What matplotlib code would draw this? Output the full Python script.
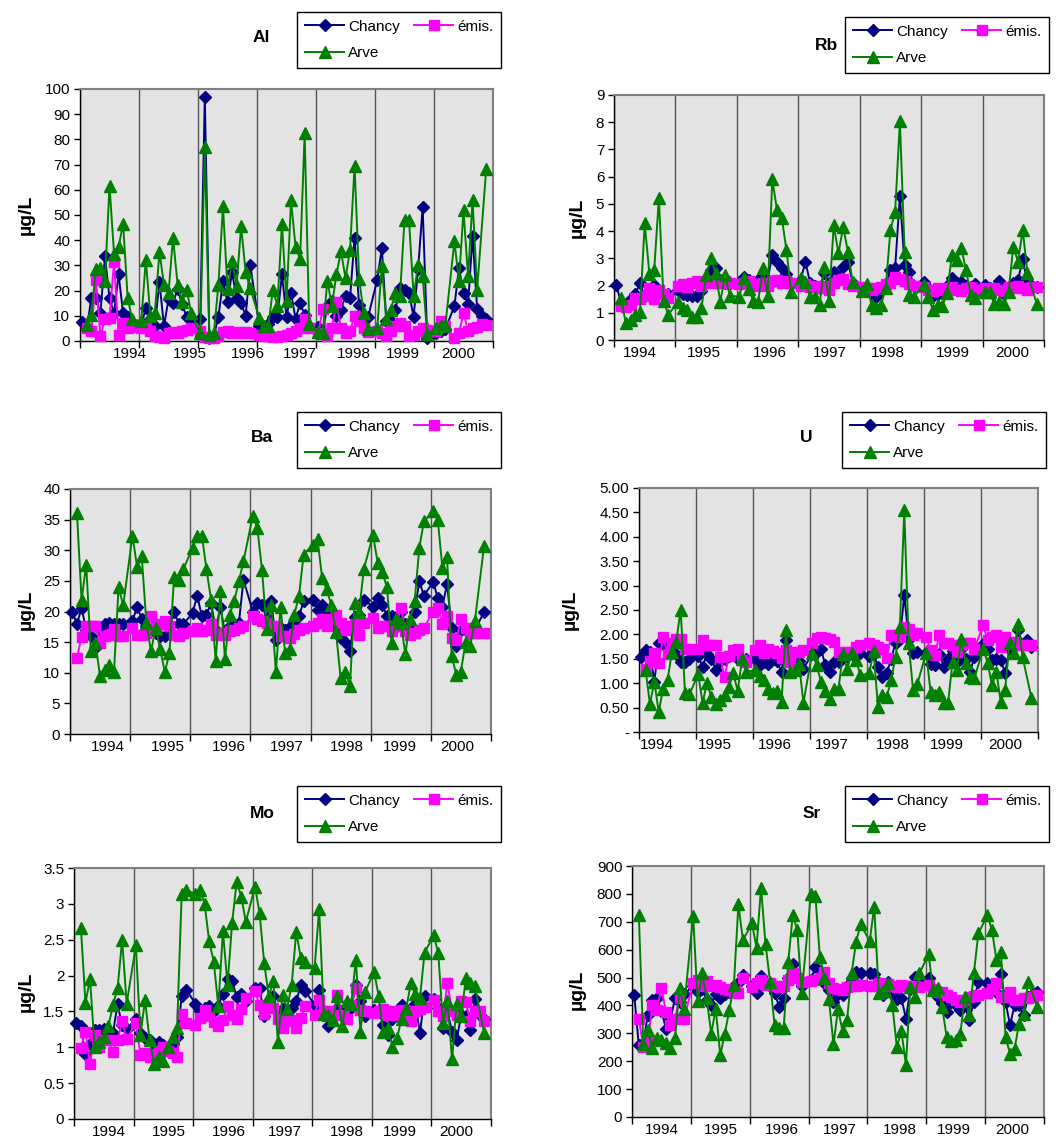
import matplotlib.pyplot as plt
import numpy as np

plt.rcParams['font.family'] = ['Liberation Sans', 'DejaVu Sans']

W, H = 1061, 1137
N = None

years = [1994, 1995, 1996, 1997, 1998, 1999, 2000]
# 13 four-weekly campaigns a year, the last one (late December) is never sampled
slots_per_year = 13
series_names = ['Chancy', 'émis.', 'Arve']

# one row per year
al_chancy = [7.5, 5, 17, 17, 11, 33.6, 17, 11, 26.4, 11, 9.6, 7, N,
             6, 13.2, 8.6, 6, 23.4, 6, 16.5, 15, 20.7, 14.5, 9.6, 8.6, N,
             8.6, 96.7, 1, 2, 9.6, 23.7, 15.4, 27.3, 17, 15.2, 9.9, 30.3, N,
             6, 5.3, 6.6, 9.6, 9.6, 26.4, 9.6, 19.1, 8.8, 14.9, 10.5, 6, N,
             5.7, 3.3, 13.9, 15.8, 9.9, 12.5, 18, 17, 40.9, 14.1, 8.6, 9.6, N,
             24.4, 36.9, 7.9, 7.9, 12.5, 21, 20.2, 19.1, 9.6, 28.6, 53.2, 1.3, N,
             3.3, 4, 4.6, N, 13.9, 29, 19.1, 14.5, 41.8, 12.8, 9.9, 8.6, N]
al_emis = [N, 5, 4, 24.4, 2, 8.6, 9.2, 31.3, 2.5, 7.3, 5, 5.5, N,
           5, 5, 4, 2, 1.5, 1, 3, 3.5, 3, 4, 4.5, 5, N,
           4, 1.5, 1, 1, 2, 3.5, 4, 3, 3.5, 3, 3.5, 3, N,
           2.5, 2, 2, 1.5, 1.5, 2, 2.5, 3, 4, 5, 8.6, 5, N,
           3, 12.8, 2, 5, 15.4, 5, 3, 4, 9.9, 8, 5, 3.5, N,
           4, 3, 2, 4, 6, 7.3, 6, 2, 2.5, 4, 5, 4.5, N,
           4, 8, 6, N, 1, 3, 11.2, 4, 5, 5.5, 6.6, 6.2, N]
al_arve = [N, 6.2, 10.5, 28.6, 29, 23.7, 61.6, 34.7, 37.3, 46.6, 17, 8.6, N,
           7.9, 32.3, 9.9, 11.2, 35.4, 22.4, 19, 41, 22.4, 15.4, 20.4, 11.2, N,
           3, 77, 2.2, 3.3, 22.4, 53.4, 20.7, 31.7, 22, 45.5, 27.3, 21, N,
           9.2, 6, 6, 20.4, 14, 46.6, 15.8, 55.8, 37.2, 32.6, 82.5, 6.6, N,
           3.6, 3.3, 24, 13.9, 26.4, 35.6, 25, 36.3, 69.5, 24.7, 11.2, 4.9, N,
           5.3, 29.7, 8.6, 12.5, 19.1, 18, 48, 47.9, 17.8, 30.3, 25.7, 2.6, N,
           5.3, 6, 6.2, N, 39.6, 23.7, 51.8, 25.7, 55.8, 20.4, N, 68.2, N]

rb_chancy = [2.02, 1.35, 1.29, 1.5, 1.7, 2.08, 1.6, 1.7, 2.02, 1.8, 1.6, 1.7, N,
             1.84, 1.7, 1.65, 1.6, 1.6, 1.8, 2.2, 2.57, 2.66, 2.2, 2.1, 2.1, N,
             2.1, 2.3, 2.2, 2.1, 2.2, 2.3, 2.2, 3.12, 2.88, 2.66, 2.41, 2.1, N,
             2.2, 2.88, 2.1, 2.0, 1.9, 2.45, 2.1, 2.5, 2.3, 2.69, 2.88, 2.1, N,
             1.9, 1.9, 1.7, 1.59, 1.8, 2.0, 2.57, 2.66, 5.3, 2.75, 2.5, 2.0, N,
             2.14, 1.9, 1.6, 1.7, 1.8, 2.0, 2.29, 2.1, 2.14, 2.0, 1.95, 2.04, N,
             2.02, 1.9, 1.8, 2.17, 1.68, 1.9, 2.1, 2.2, 2.97, 2.08, 2.0, 1.95, N]
rb_emis = [N, 1.25, 1.2, 1.3, 1.55, 1.5, 1.6, 1.9, 1.5, 1.85, 1.7, 1.55, N,
           2.0, 2.05, 1.95, 2.1, 2.15, 2.0, 2.1, 2.15, 2.1, 2.1, 2.15, 2.1, N,
           2.05, 2.1, 2.15, 2.05, 2.0, 2.1, 2.0, 2.15, 2.2, 2.1, 2.15, 2.1, N,
           2.0, 2.05, 1.95, 2.0, 1.9, 2.0, 1.85, 2.1, 2.2, 2.25, 2.05, 2.0, N,
           1.95, 1.9, 1.85, 1.9, 1.95, 2.05, 2.1, 2.3, 2.25, 2.15, 2.05, 2.0, N,
           1.95, 1.85, 1.8, 1.9, 1.85, 1.9, 1.95, 1.85, 1.8, 1.9, 1.95, 1.85, N,
           1.9, 1.85, 1.9, 1.85, 1.8, 1.95, 1.9, 2.0, 1.9, 1.85, 1.95, 1.95, N]
rb_arve = [N, 1.53, 0.61, 0.73, 0.92, 1.04, 4.28, 2.41, 2.57, 5.2, 1.43, 0.92, N,
           1.41, 1.16, 1.1, 0.86, 0.86, 1.16, 2.39, 3.0, 2.45, 1.41, 2.39, 1.63, N,
           1.59, 2.26, 1.87, 1.43, 1.41, 2.63, 1.63, 5.9, 4.77, 4.49, 3.3, 1.77, N,
           2.29, 2.14, 1.59, 1.59, 1.29, 2.69, 1.43, 4.22, 3.18, 4.16, 3.24, 2.14, N,
           1.8, 2.04, 1.29, 1.19, 1.29, 1.9, 4.04, 4.71, 8.04, 3.24, 1.65, 1.59, N,
           2.02, 1.59, 1.1, 1.29, 1.26, 1.71, 3.12, 2.94, 3.37, 2.57, 1.65, 1.53, N,
           1.77, 1.77, 1.31, 1.41, 1.31, 1.77, 3.43, 2.88, 4.04, 2.45, N, 1.31, N]

ba_chancy = [20, 17.9, 20.6, 17, 16, 14, 17, 17.9, 18.1, 18, 17.9, 18, N,
             18.4, 20.8, 18.8, 17.6, 17, 16.5, 16, 16, 17.5, 20, 18, 17.9, N,
             19.8, 22.6, 19.2, 19.5, 21.4, 17, 20.7, 16.5, 17.6, 17.9, 18.1, 25.2, N,
             20, 21.4, 21, 18.9, 21.7, 15.4, 17.3, 17, 17.5, 18.1, 19.2, 21.7, N,
             21.9, 20.3, 21, 20, 18.7, 17.3, 15.7, 15.1, 13.5, 19.1, 19.5, 21.9, N,
             20.8, 22.2, 21, 19.3, 19.2, 17.5, 20, 18, 17.5, 20, 24.9, 22.6, N,
             24.8, 22.2, 20.8, 24.5, 17.3, 14.4, 17, 17, 16.5, 17, N, 19.9, N]
ba_emis = [N, 12.4, 15.9, 17.6, 17.6, 17.6, 14.9, 16, 16.2, 17.1, 16, 16, N,
           17.3, 16.2, 16.2, 16.5, 19.2, 17.6, 18, 18.4, 17.6, 16.2, 16, 16.5, N,
           16.8, 17.3, 16.8, 17, 17.9, 16.2, 16.5, 16.2, 16.8, 17, 17.3, 17.7, N,
           19.2, 18.8, 18.4, 18.1, 17.6, 17.6, 16, 16, 15.7, 16.4, 16.9, 17.3, N,
           17.6, 18.1, 18.7, 17.6, 18.7, 19.5, 18.1, 17, 17.6, 17.9, 16.2, 18.1, N,
           18.9, 17.3, 17.6, 17.6, 16.8, 17.6, 20.6, 16.8, 16.2, 16.5, 17, 17.3, N,
           20, 20.6, 18, 19.2, 15.7, 15.4, 18.7, 17.3, 16.5, 16.5, N, 16.5, N]
ba_arve = [N, 36.1, 21.9, 27.6, 13.5, 14.9, 9.4, 10.4, 11.3, 10.1, 24, 21, N,
           32.4, 27.3, 29.1, 18.2, 13.5, 17.3, 13.8, 10.1, 13.2, 25.7, 25.2, 26.9, N,
           30.4, 32.3, 32.4, 26.9, 21.9, 11.9, 23.3, 12.2, 19.5, 21.7, 24.9, 28.2, N,
           35.6, 33.6, 26.8, 17.1, 21.1, 10.1, 20.8, 13.2, 13.9, 19.5, 22.6, 29.3, N,
           30.9, 31.8, 25.5, 23.6, 21, 16.6, 9.1, 10.2, 7.8, 21.4, 20, 26.9, N,
           32.5, 28, 26.4, 24, 14.9, 18.8, 18.2, 13, 18.8, 21.7, 30.4, 34.7, N,
           36.4, 34.9, 27.1, 28.9, 12.7, 9.7, 10.2, 15, 14.3, 18.4, N, 30.7, N]

u_chancy = [1.54, 1.68, 1.64, 1.03, 1.82, 1.8, 1.7, 1.75, 1.6, 1.44, 1.44, 1.5, N,
            1.55, 1.34, 1.6, 1.5, 1.28, 1.45, 1.5, 1.55, 1.61, 1.5, 1.45, 1.5, N,
            1.5, 1.37, 1.44, 1.4, 1.5, 1.45, 1.23, 1.88, 1.5, 1.55, 1.45, 1.3, N,
            1.6, 1.64, 1.7, 1.37, 1.23, 1.44, 1.44, 1.55, 1.55, 1.6, 1.55, 1.61, N,
            1.55, 1.6, 1.34, 1.13, 1.2, 1.5, 1.82, 1.9, 2.81, 1.9, 1.61, 1.64, N,
            1.62, 1.4, 1.37, 1.6, 1.34, 1.5, 1.65, 1.44, 1.7, 1.5, 1.23, 1.54, N,
            1.8, 1.7, 1.47, 1.5, 1.47, 1.21, 1.7, 1.75, 2.09, 1.8, 1.88, 1.75, N]
u_emis = [N, 1.3, 1.45, 1.61, 1.42, 1.95, 1.6, 1.82, 1.9, 1.9, 1.71, 1.71, N,
          1.71, 1.88, 1.78, 1.78, 1.78, 1.54, 1.13, 1.55, 1.68, 1.71, 1.47, 1.44, N,
          1.68, 1.78, 1.61, 1.71, 1.65, 1.61, 1.51, 1.68, 1.44, 1.64, 1.64, 1.68, N,
          1.82, 1.92, 1.95, 1.92, 1.9, 1.85, 1.64, 1.6, 1.64, 1.64, 1.75, 1.78, N,
          1.82, 1.78, 1.75, 1.71, 1.51, 1.99, 1.99, 1.95, 2.16, 2.12, 1.99, 2.03, N,
          1.95, 1.68, 1.58, 1.99, 1.83, 1.83, 1.78, 1.64, 1.78, 1.82, 1.82, 1.71, N,
          2.19, 1.88, 1.95, 1.99, 1.75, 1.95, 1.82, 1.85, 1.78, 1.78, 1.78, 1.78, N]
u_arve = [N, 1.27, 0.57, 1.03, 0.41, 0.89, 1.06, 1.64, 1.85, 2.51, 0.79, 0.77, N,
          1.18, 0.6, 1.0, 0.72, 0.58, 0.65, 0.75, 0.92, 1.2, 0.84, 1.49, 1.23, N,
          1.27, 1.14, 1.06, 0.89, 0.79, 0.84, 0.62, 2.08, 1.23, 1.27, 1.4, 0.6, N,
          1.62, 1.37, 1.03, 0.84, 0.68, 0.89, 0.89, 1.6, 1.3, 1.61, 1.47, 1.16, N,
          1.2, 1.66, 0.51, 0.75, 0.72, 1.06, 1.54, 2.16, 4.54, 1.82, 0.86, 0.99, N,
          1.62, 0.82, 0.75, 0.82, 0.6, 0.6, 1.44, 1.27, 1.9, 1.42, 1.13, 1.1, N,
          1.71, 1.42, 0.96, 1.23, 0.62, 0.87, 1.82, 1.61, 2.21, 1.53, N, 0.7, N]

mo_chancy = [1.34, 1.29, 0.9, 1.05, 1.24, 1.24, 1.26, 1.15, 1.2, 1.6, 1.31, 1.25, N,
             1.4, 1.2, 1.13, 1.1, 1.05, 1.08, 1.03, 0.95, 1.05, 1.14, 1.71, 1.8, N,
             1.61, 1.5, 1.55, 1.58, 1.5, 1.58, 1.75, 1.95, 1.92, 1.7, 1.74, 1.65, N,
             1.83, 1.83, 1.43, 1.6, 1.71, 1.5, 1.54, 1.5, 1.55, 1.64, 1.87, 1.78, N,
             1.59, 1.8, 1.5, 1.29, 1.45, 1.55, 1.5, 1.5, 1.55, 1.87, 1.64, 1.43, N,
             1.52, 1.5, 1.31, 1.17, 1.4, 1.45, 1.59, 1.5, 1.5, 1.6, 1.2, 1.71, N,
             1.68, 1.55, 1.27, 1.5, 1.22, 1.1, 1.45, 1.43, 1.24, 1.67, 1.45, 1.4, N]
mo_emis = [N, 0.99, 1.22, 0.76, 1.17, 1.01, 1.1, 1.1, 0.94, 1.1, 1.36, 1.12, N,
           1.34, 0.89, 0.92, 0.87, 0.9, 0.95, 1.0, 0.95, 0.92, 0.87, 1.47, 1.34, N,
           1.31, 1.41, 1.52, 1.44, 1.35, 1.29, 1.38, 1.57, 1.45, 1.4, 1.54, 1.69, N,
           1.78, 1.59, 1.47, 1.61, 1.55, 1.4, 1.27, 1.36, 1.38, 1.27, 1.41, 1.57, N,
           1.45, 1.66, 1.5, 1.5, 1.45, 1.73, 1.45, 1.4, 1.59, 1.82, 1.52, 1.5, N,
           1.48, 1.5, 1.54, 1.45, 1.5, 1.45, 1.52, 1.45, 1.36, 1.5, 1.54, 1.56, N,
           1.66, 1.5, 1.43, 1.89, 1.5, 1.45, 1.64, 1.63, 1.36, 1.51, 1.5, 1.36, N]
mo_arve = [N, 2.67, 1.62, 1.95, 1.0, 1.08, 1.14, 1.29, 1.59, 1.82, 2.49, 1.61, N,
           2.42, 1.17, 1.66, 1.1, 0.76, 0.86, 0.81, 1.0, 1.14, 1.27, 3.14, 3.19, N,
           3.14, 3.2, 3.0, 2.48, 2.19, 1.57, 2.62, 1.87, 2.73, 3.31, 3.1, 2.75, N,
           3.24, 2.87, 2.18, 1.71, 1.92, 1.08, 1.73, 1.54, 1.87, 2.61, 2.24, 2.19, N,
           2.1, 2.93, 1.47, 1.45, 1.38, 1.71, 1.29, 1.64, 1.6, 2.22, 1.22, 1.77, N,
           2.05, 1.71, 1.22, 1.27, 1.01, 1.13, 1.4, 1.54, 1.89, 1.74, 1.69, 2.32, N,
           2.56, 2.31, 1.34, 1.64, 0.83, 1.6, 1.43, 1.96, 1.89, 1.85, N, 1.2, N]

sr_chancy = [437, 257, 265, 367, 420, 427, 380, 317, 350, 425, 413, 440, N,
             470, 449, 460, 420, 403, 440, 425, 440, 450, 470, 480, 509, N,
             470, 446, 506, 480, 470, 446, 395, 427, 500, 547, 500, 470, N,
             490, 539, 500, 480, 455, 413, 440, 439, 470, 500, 521, 518, N,
             518, 511, 480, 437, 485, 440, 422, 427, 353, 460, 503, 480, N,
             497, 460, 430, 410, 375, 413, 400, 383, 400, 347, 413, 485, N,
             482, 470, 450, 511, 413, 329, 401, 400, 365, 430, 440, 449, N]
sr_emis = [N, 353, 251, 270, 401, 383, 463, 377, 329, 353, 427, 353, N,
           479, 490, 470, 487, 470, 475, 467, 460, 455, 450, 443, 500, N,
           467, 480, 490, 475, 480, 470, 465, 470, 490, 515, 500, 485, N,
           487, 490, 500, 521, 480, 461, 460, 455, 465, 468, 470, 475, N,
           470, 470, 480, 475, 478, 470, 465, 475, 470, 470, 468, 465, N,
           475, 460, 449, 449, 437, 430, 420, 413, 420, 430, 435, 437, N,
           445, 460, 479, 430, 430, 449, 420, 420, 425, 425, 430, 437, N]
sr_arve = [N, 726, 263, 311, 248, 284, 275, 267, 248, 284, 461, 389, N,
           722, 415, 515, 425, 299, 387, 221, 299, 383, 473, 762, 634, N,
           694, 607, 822, 619, 485, 329, 320, 320, 554, 724, 670, 446, N,
           798, 793, 574, 499, 422, 260, 387, 308, 347, 515, 628, 691, N,
           631, 754, 446, 451, 479, 401, 251, 308, 188, 467, 431, 515, N,
           583, 455, 461, 395, 287, 272, 275, 296, 431, 365, 515, 658, N,
           724, 670, 563, 592, 287, 227, 245, 335, 371, 485, N, 395, N]

# styles of the three series
colors = ['#000080', '#FF00FF', '#008000']
markers = ['D', 's', '^']
msizes = [5.8, 7.2, 8.5]

# layout in pixels: plot box (l, t, r, b), title, legend corner, y label, year label offsets
panels = [
    dict(name='Al', data=(al_chancy, al_emis, al_arve), ymax=100, step=10, fmt='{:g}',
         box=(80, 89, 493, 341), title=(261, 38), leg=(297, 12), ylab=(26, 215),
         labx=[0.846, 1.854, 2.842, 3.731, 4.650, 5.477, 6.415]),
    dict(name='Rb', data=(rb_chancy, rb_emis, rb_arve), ymax=9, step=1, fmt='{:g}',
         box=(614, 95, 1044, 340), title=(827, 45), leg=(845, 17), ylab=(577, 218),
         labx=[0.423, 1.469, 2.538, 3.515, 4.462, 5.523, 6.477]),
    dict(name='Ba', data=(ba_chancy, ba_emis, ba_arve), ymax=40, step=5, fmt='{:g}',
         box=(70, 489, 491, 734), title=(262, 438), leg=(297, 412), ylab=(26, 610),
         labx=[0.638, 1.635, 2.646, 3.6, 4.6, 5.485, 6.431]),
    dict(name='U', data=(u_chancy, u_emis, u_arve), ymax=5, step=0.5, fmt='{:.2f}',
         box=(639, 488, 1038, 732), title=(806, 438), leg=(842, 412), ylab=(570, 610),
         labx=[0.308, 1.331, 2.385, 3.377, 4.462, 5.4, 6.423]),
    dict(name='Mo', data=(mo_chancy, mo_emis, mo_arve), ymax=3.5, step=0.5, fmt='{:g}',
         box=(74, 868, 491, 1119), title=(262, 813), leg=(297, 786), ylab=(26, 992),
         labx=[0.592, 1.585, 2.592, 3.538, 4.577, 5.469, 6.423]),
    dict(name='Sr', data=(sr_chancy, sr_emis, sr_arve), ymax=900, step=100, fmt='{:g}',
         box=(632, 866, 1044, 1117), title=(812, 813), leg=(845, 786), ylab=(577, 990),
         labx=[0.508, 1.515, 2.546, 3.523, 4.554, 5.462, 6.454]),
]

n_samples = len(years) * slots_per_year
x = years[0] + (np.arange(n_samples) + 0.5) / slots_per_year

fig = plt.figure(figsize=(W / 100, H / 100), dpi=100)

for p in panels:
    l, t, r, b = p['box']
    ax = fig.add_axes([l / W, 1 - b / H, (r - l) / W, (b - t) / H])
    ax.set_facecolor('#E3E3E3')
    ax.set_axisbelow(True)

    for k, vals in enumerate(p['data']):
        y = np.array(vals, dtype=float)
        ok = ~np.isnan(y)
        ax.plot(x[ok], y[ok], color=colors[k], marker=markers[k], ms=msizes[k],
                lw=1.4, label=series_names[k], clip_on=False, zorder=3 + k)

    ax.set_xlim(years[0], years[-1] + 1)
    ax.set_ylim(0, p['ymax'])

    ax.set_xticks(range(years[0], years[-1] + 2))
    ax.set_xticklabels([])
    ax.grid(axis='x', which='major', color='#555555', lw=1.0)
    ax.set_xticks([years[0] + v for v in p['labx']], minor=True)
    ax.set_xticklabels([str(yr) for yr in years], minor=True)
    ax.tick_params(axis='x', which='major', direction='out', length=5, width=1)
    ax.tick_params(axis='x', which='minor', length=0, pad=4, labelsize=11)

    yt = np.arange(0, p['ymax'] + p['step'] / 2, p['step'])
    ax.set_yticks(yt)
    ylabels = [p['fmt'].format(v) for v in yt]
    if p['name'] == 'U':
        ylabels[0] = '-'
    ax.set_yticklabels(ylabels)
    ax.tick_params(axis='y', direction='out', length=4, width=1, pad=3, labelsize=11)

    for s in ['left', 'bottom']:
        ax.spines[s].set_color('black')
        ax.spines[s].set_linewidth(1)
    for s in ['top', 'right']:
        ax.spines[s].set_color('#808080')
        ax.spines[s].set_linewidth(1.5)

    h, lab = ax.get_legend_handles_labels()
    order = [0, 2, 1]
    lx, ly = p['leg']
    ax.legend([h[i] for i in order], [lab[i] for i in order], ncol=2,
              loc='upper left', bbox_to_anchor=(lx / W, 1 - ly / H),
              bbox_transform=fig.transFigure, fontsize=11, frameon=True,
              fancybox=False, edgecolor='black', framealpha=1, borderpad=0.5,
              handlelength=2.6, handletextpad=0.25, columnspacing=0.9,
              labelspacing=0.8, borderaxespad=0)

    tx, ty = p['title']
    fig.text(tx / W, 1 - ty / H, p['name'], fontsize=12.5, fontweight='bold',
             ha='center', va='center')
    yx, yy = p['ylab']
    fig.text(yx / W, 1 - yy / H, 'µg/L', fontsize=14, fontweight='bold',
             rotation=90, ha='center', va='center')

fig.savefig('out.png', dpi=100)
